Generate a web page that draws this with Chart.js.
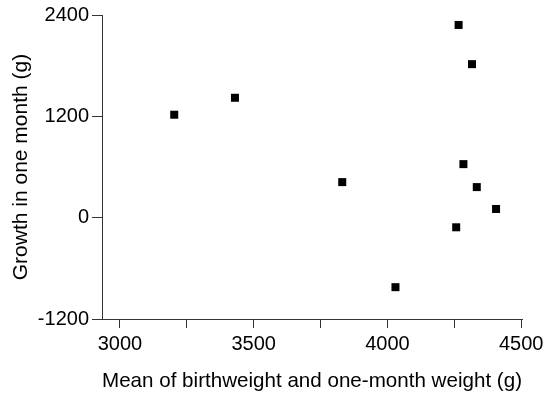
<!DOCTYPE html>
<html>
<head>
<meta charset="utf-8">
<script src="https://cdn.jsdelivr.net/npm/chart.js@4"></script>
<style>
  html, body { margin: 0; padding: 0; background: #fff; }
</style>
</head>
<body>
<canvas id="myChart" width="548" height="396"></canvas>
<script>
// data
const meanWeight = [4266, 4316, 3430, 3203, 4284, 3831, 4334, 4406, 4257, 4030];
const growth = [2282, 1818, 1420, 1219, 634, 421, 362, 103, -114, -823];
const xTicks = [3000, 3250, 3500, 3750, 4000, 4250, 4500];
const xLabels = [3000, 3500, 4000, 4500];
const yTicks = [-1200, 0, 1200, 2400];

const points = meanWeight.map((x, i) => ({x: x, y: growth[i]}));

Chart.defaults.font.family = '"Liberation Sans", Arial, sans-serif';
Chart.defaults.color = '#000';

const config = {
  type: 'scatter',
  data: {
    datasets: [{
      data: points,
      pointStyle: 'rect',
      pointRadius: 5.66,
      pointHoverRadius: 5.66,
      borderWidth: 0,
      backgroundColor: '#000'
    }]
  },
  options: {
    responsive: false,
    animation: false,
    events: [],
    layout: {
      padding: {top: 14, right: 26, bottom: 0, left: 0}
    },
    plugins: {
      legend: false,
      tooltip: {enabled: false}
    },
    scales: {
      x: {
        type: 'linear',
        min: 2933,
        max: 4503,
        afterBuildTicks: (scale) => {
          scale.ticks = xTicks.map(v => ({value: v}));
        },
        afterFit: (scale) => { scale.height = 77; },
        ticks: {
          autoSkip: false,
          maxRotation: 0,
          padding: 4,
          font: {size: 20},
          callback: (v) => xLabels.includes(v) ? String(v) : ''
        },
        grid: {
          drawOnChartArea: false,
          tickLength: 9,
          color: '#333'
        },
        border: {color: '#333'},
        title: {
          display: true,
          text: 'Mean of birthweight and one-month weight (g)',
          font: {size: 21},
          padding: {top: 0, bottom: 2}
        }
      },
      y: {
        min: -1200,
        max: 2400,
        afterBuildTicks: (scale) => {
          scale.ticks = yTicks.map(v => ({value: v}));
        },
        afterFit: (scale) => { scale.width = 102; },
        ticks: {
          padding: 3,
          font: {size: 20},
          callback: (v) => String(v) // no thousands comma
        },
        grid: {
          drawOnChartArea: false,
          tickLength: 10,
          color: '#333'
        },
        border: {color: '#333'},
        title: {
          display: true,
          text: 'Growth in one month (g)',
          font: {size: 21},
          padding: {top: 9, bottom: 0}
        }
      }
    }
  }
};

const myChart = new Chart(document.getElementById('myChart'), config);
</script>
</body>
</html>
